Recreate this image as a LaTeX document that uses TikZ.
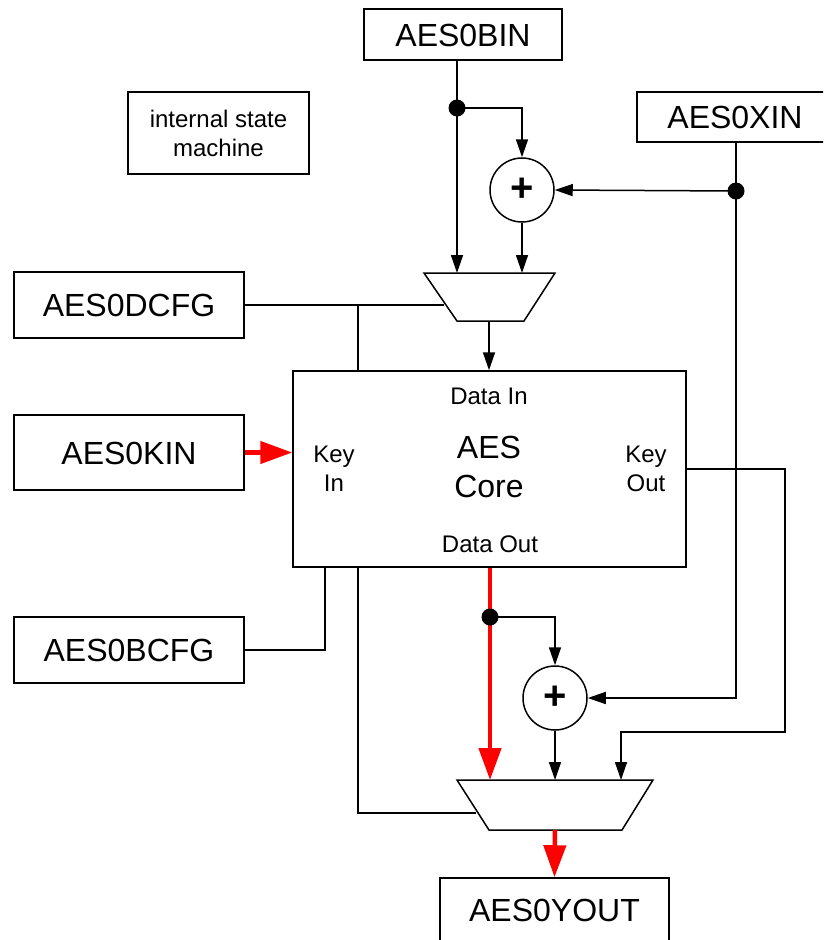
\documentclass[tikz,border=0pt]{standalone}
\usepackage{fontspec}
\setmainfont{Liberation Sans}
\usetikzlibrary{arrows.meta,calc}
\begin{document}
\begin{tikzpicture}[x=1pt,y=-1pt,
  wire/.style={line width=1.5pt},
  arr/.style={wire,-{Triangle[length=18pt,width=12pt]}},
  redarr/.style={draw=red,line width=4.5pt,-{Triangle[length=32pt,width=22pt]}},
  regbox/.style={draw,line width=1.5pt,inner sep=0pt,font=\fontsize{32}{36}\selectfont,text height=23pt,text depth=0pt},
  small/.style={inner sep=0pt,font=\fontsize{24}{29}\selectfont,align=center},
  big/.style={inner sep=0pt,font=\fontsize{32}{39}\selectfont,align=center},
  adder/.style={draw,circle,line width=1.5pt,minimum size=64pt,inner sep=0pt,font=\fontsize{40}{40}\selectfont\bfseries},
  dotc/.style={fill=black}
]
\useasboundingbox (0,0) rectangle (823,940);
\clip (0,0) rectangle (823,940);

% register boxes
\node[regbox,minimum width=198pt,minimum height=51pt] (bin) at (463,34.5) {AES0BIN};
\node[regbox,minimum width=196pt,minimum height=50pt] (xin) at (735,117) {AES0XIN};
\node[regbox,minimum width=230pt,minimum height=66pt] (dcfg) at (129,305) {AES0DCFG};
\node[regbox,minimum width=230pt,minimum height=75pt] (kin) at (129,452.5) {AES0KIN};
\node[regbox,minimum width=230pt,minimum height=66pt] (bcfg) at (129,650) {AES0BCFG};
\node[regbox,minimum width=229pt,minimum height=64pt] (yout) at (554.5,910) {AES0YOUT};
\node[draw,line width=1.5pt,minimum width=181pt,minimum height=82pt,small] (ism) at (218.5,133) {internal state\\machine};

% AES core
\node[draw,line width=1.5pt,minimum width=393pt,minimum height=196pt] (core) at (489.5,469) {};
\node[small] (din) at (489,396.5) {Data In};
\node[small] (dout) at (490,544.5) {Data Out};
\node[small] (kinl) at (334,468.5) {Key\\In};
\node[small] (koutl) at (646,468.5) {Key\\Out};
\node[big] (aes) at (489,467) {AES\\Core};

% adders
\node[adder] (x1) at (522,190) {+};
\node[adder] (x2) at (555,698) {+};

% multiplexers
\draw[wire] (424,273) -- (555,273) -- (524,321) -- (457,321) -- cycle;
\draw[wire] (457,780) -- (653,780) -- (622,830) -- (489,830) -- cycle;

\coordinate (m1a) at (457,273);
\coordinate (m1b) at (522,273);
\coordinate (m1s) at (444,305);
\coordinate (m1o) at (489,321);
\coordinate (m2a) at (490,780);
\coordinate (m2b) at (555,780);
\coordinate (m2c) at (621,780);
\coordinate (m2s) at (476,813);
\coordinate (m2o) at (555,830);
\coordinate (d1) at (457,108);
\coordinate (d2) at (736,191);
\coordinate (d3) at (490,617);
\coordinate (j1) at (358,305);
\coordinate (j2) at (358,813);
\coordinate (j3) at (325,649);
\coordinate (ko) at (785,732);

% connectors
\draw[arr] (bin.south -| m1a) -- (m1a);
\draw[arr] (d1) -| (x1.north);
\draw[arr] (x1.south) -- (m1b);
\draw[arr] (d2) -- (x1.east);
\draw[arr] (xin.south -| d2) |- (x2.east);
\draw[wire] (dcfg.east) -- (dcfg.east -| m1s);
\draw[wire] (j1) -- (j1 |- core.north);
\draw[arr] (m1o) -- (m1o |- core.north);
\draw[redarr] (kin.east) -- (kin.east -| core.west);
\draw[wire] (bcfg.east) -| (j3 |- core.south);
\draw[wire] (j2 |- core.south) -- (j2) -- (m2s);
\draw[redarr] (core.south -| m2a) -- (m2a);
\draw[arr] (d3) -| (x2.north);
\draw[arr] (x2.south) -- (m2b);
\draw[arr] (core.east) -| (ko) -- (ko -| m2c) -- (m2c);
\draw[redarr] (m2o) -- (yout.north);

% junction dots
\fill[dotc] (d1) circle (8.5pt);
\fill[dotc] (d2) circle (8.5pt);
\fill[dotc] (d3) circle (8.5pt);
\end{tikzpicture}
\end{document}
